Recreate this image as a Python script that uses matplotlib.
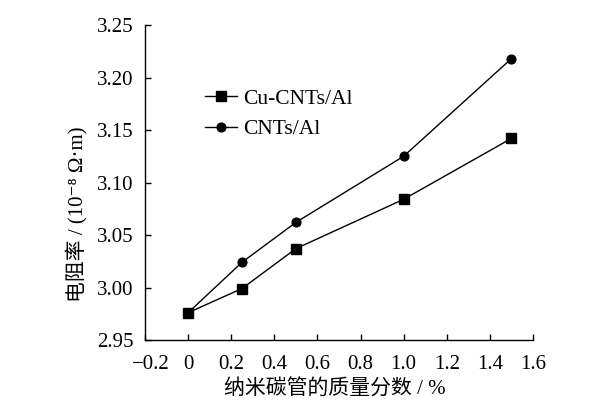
import matplotlib
matplotlib.use("Agg")
import matplotlib.pyplot as plt
import matplotlib.transforms as mtransforms

x_cu = [0, 0.25, 0.5, 1.0, 1.5]
y_cu = [2.976, 2.999, 3.037, 3.084, 3.142]
x_cnt = [0, 0.25, 0.5, 1.0, 1.5]
y_cnt = [2.976, 3.024, 3.062, 3.125, 3.218]
xticks = [-0.2, 0, 0.2, 0.4, 0.6, 0.8, 1.0, 1.2, 1.4, 1.6]
xticklabels = ["\u22120.2", "0", "0.2", "0.4", "0.6", "0.8", "1.0", "1.2", "1.4", "1.6"]
yticks = [2.95, 3.00, 3.05, 3.10, 3.15, 3.20, 3.25]

fam = ["Liberation Serif", "Noto Sans CJK SC", "DejaVu Serif", "DejaVu Sans"]
plt.rcParams["font.family"] = fam

fig = plt.figure(figsize=(6.0, 4.15), dpi=100)
ax = fig.add_axes([145 / 600, 75 / 415, 388 / 600, 315 / 415])

ax.plot(x_cu, y_cu, color="black", lw=1.0, marker="s", ms=6.5, label="Cu-CNTs/Al")
ax.plot(x_cnt, y_cnt, color="black", lw=1.0, marker="o", ms=6.3, label="CNTs/Al")

ax.set_xlim(-0.2, 1.6)
ax.set_ylim(2.95, 3.25)
ax.set_xticks(xticks)
ax.set_xticklabels(xticklabels)
ax.set_yticks(yticks)
ax.set_yticklabels([f"{v:.2f}" for v in yticks])
ax.tick_params(direction="in", length=4.3, width=1, labelsize=15)
ax.tick_params(axis="x", pad=11)
ax.tick_params(axis="y", pad=8)
for s in ["top", "right"]:
    ax.spines[s].set_visible(False)
for s in ["left", "bottom"]:
    ax.spines[s].set_linewidth(1.0)

# shift the first x tick label slightly right, as in the reference
lbl = ax.get_xticklabels()[0]
lbl.set_transform(lbl.get_transform() + mtransforms.ScaledTranslation(6 / 100, 0, fig.dpi_scale_trans))

ax.set_xlabel("纳米碳管的质量分数 / %", fontsize=15)
ax.xaxis.set_label_coords(0.49, -0.125)
ax.set_ylabel("电阻率 / (10\u207b\u2078 Ω·m)", fontsize=15)
ax.yaxis.set_label_coords(-0.147, 0.40)

leg = ax.legend(loc="upper left", bbox_to_anchor=(0.105, 0.86), frameon=False,
                fontsize=15.5, handlelength=1.5, handletextpad=0.25, labelspacing=0.5)

fig.savefig("out.png", dpi=100)
